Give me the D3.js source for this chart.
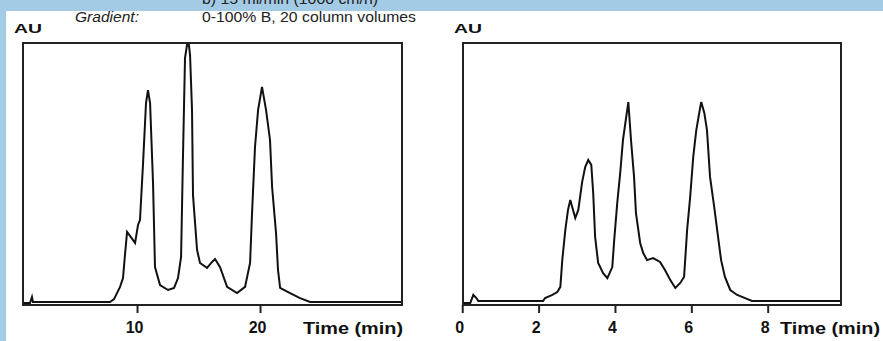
<!DOCTYPE html>
<html>
<head>
<meta charset="utf-8">
<script src="https://cdn.jsdelivr.net/npm/d3@7"></script>
<style>
  html, body { margin: 0; padding: 0; background: #fff; }
  svg { display: block; }
</style>
</head>
<body>
<svg id="chart" width="883" height="341"></svg>
<script>
// chromatogram a) - time (min) and absorbance (relative AU)
const leftTime = [0.73, 1.30, 1.46, 1.54, 7.80, 8.13, 8.37, 8.62, 8.86, 9.02, 9.19, 9.43, 9.84, 10.08,
  10.24, 10.49, 10.73, 10.89, 11.06, 11.30, 11.46, 11.87, 12.52, 13.01, 13.33, 13.58, 13.74, 13.90,
  14.15, 14.31, 14.47, 14.55, 14.88, 15.12, 15.69, 16.10, 16.34, 16.75, 17.32, 18.13, 18.78, 19.19,
  19.35, 19.59, 19.84, 20.16, 20.49, 20.81, 20.98, 21.30, 21.46, 21.63, 22.44, 23.25, 24.07, 31.54];
const leftAU = [0, 0, 0.023, 0.004, 0.004, 0.015, 0.038, 0.062, 0.096, 0.185, 0.273, 0.258, 0.231, 0.30,
  0.319, 0.538, 0.769, 0.819, 0.769, 0.462, 0.138, 0.069, 0.05, 0.058, 0.096, 0.177, 0.577, 0.942,
  1.02, 0.954, 0.742, 0.415, 0.204, 0.154, 0.135, 0.158, 0.169, 0.138, 0.062, 0.038, 0.062, 0.154,
  0.346, 0.60, 0.742, 0.831, 0.742, 0.627, 0.446, 0.269, 0.127, 0.058, 0.038, 0.019, 0.004, 0.004];

// chromatogram b)
const rightTime = [0.03, 0.21, 0.29, 0.37, 0.42, 2.12, 2.17, 2.36, 2.49, 2.57, 2.62, 2.70, 2.77, 2.83,
  2.96, 3.04, 3.14, 3.22, 3.30, 3.38, 3.43, 3.48, 3.56, 3.69, 3.80, 3.93, 3.98, 4.06, 4.14, 4.21,
  4.32, 4.35, 4.42, 4.50, 4.55, 4.66, 4.74, 4.84, 5.00, 5.18, 5.31, 5.45, 5.58, 5.71, 5.81, 5.89,
  5.97, 6.05, 6.13, 6.23, 6.26, 6.34, 6.41, 6.49, 6.60, 6.70, 6.78, 6.88, 7.02, 7.20, 7.41, 7.59, 9.92];
const rightAU = [0, 0, 0.031, 0.019, 0.008, 0.008, 0.019, 0.031, 0.042, 0.062, 0.165, 0.281, 0.358, 0.396,
  0.327, 0.358, 0.465, 0.523, 0.55, 0.531, 0.423, 0.254, 0.154, 0.115, 0.096, 0.138, 0.242, 0.385, 0.504, 0.627,
  0.742, 0.773, 0.627, 0.485, 0.346, 0.231, 0.192, 0.165, 0.173, 0.158, 0.127, 0.088, 0.058, 0.077, 0.10, 0.281,
  0.408, 0.562, 0.665, 0.75, 0.773, 0.731, 0.665, 0.485, 0.369, 0.254, 0.165, 0.10, 0.05, 0.031, 0.019, 0.008, 0.008];

const leftTicks = [10, 20];
const rightTicks = [0, 2, 4, 6, 8];
const axisTitle = 'Time (min)';
const yTitle = 'AU';

const svg = d3.select('#chart');
const FONT = 'Liberation Sans, Arial, sans-serif';

// light blue page border
svg.append('rect').attr('width', 883).attr('height', 341).attr('fill', '#a4cbe6');
svg.append('rect').attr('x', 6).attr('y', 11).attr('width', 877).attr('height', 330).attr('fill', '#fff');

// header text (cut by the top edge, as in the source page)
const header = (x, yy, len, txt, italic) => {
  svg.append('text')
    .attr('x', x).attr('y', yy)
    .attr('textLength', len)
    .attr('lengthAdjust', 'spacingAndGlyphs')
    .style('font-family', FONT)
    .style('font-size', '14.5px')
    .style('font-style', italic ? 'italic' : 'normal')
    .attr('fill', '#222')
    .text(txt);
};
header(202, 4, 176, 'b) 15 ml/min (1000 cm/h)', false);
header(75, 22, 64, 'Gradient:', true);
header(202, 22, 214, '0-100% B, 20 column volumes', false);

const plotTop = 43, plotBottom = 305;
const y = d3.scaleLinear().domain([0, 1]).range([plotBottom - 2 - plotTop, 0]);

const drawPanel = (id, left, width, domain, times, values, ticks, titleEnd) => {
  const g = svg.append('g').attr('transform', `translate(${left},${plotTop})`);
  const h = plotBottom - plotTop;
  const x = d3.scaleLinear().domain(domain).range([0, width]);

  g.append('clipPath').attr('id', id)
    .append('rect').attr('width', width).attr('height', h);

  const pts = times.map((t, i) => [t, values[i]]);
  const line = d3.line().x(d => x(d[0])).y(d => y(d[1]));
  g.append('path')
    .datum(pts)
    .attr('clip-path', `url(#${id})`)
    .attr('d', line)
    .attr('fill', 'none')
    .attr('stroke', '#111')
    .attr('stroke-width', 2)
    .attr('stroke-linejoin', 'miter');

  // frame
  g.append('rect')
    .attr('width', width).attr('height', h)
    .attr('fill', 'none')
    .attr('stroke', '#222')
    .attr('stroke-width', 2);

  const axis = g.append('g')
    .attr('transform', `translate(0,${h})`)
    .call(d3.axisBottom(x).tickValues(ticks).tickSize(8).tickPadding(9).tickFormat(d3.format('d')));
  axis.select('.domain').remove();
  axis.selectAll('.tick line').attr('stroke', '#222').attr('stroke-width', 2);
  axis.selectAll('.tick text')
    .attr('dx', -3)
    .attr('fill', '#111')
    .style('font-family', FONT)
    .style('font-size', '16px')
    .style('font-weight', 'bold');

  g.append('text')
    .attr('x', titleEnd - 100).attr('y', h + 29)
    .attr('textLength', 100)
    .attr('lengthAdjust', 'spacingAndGlyphs')
    .attr('fill', '#111')
    .style('font-family', FONT)
    .style('font-size', '17px')
    .style('font-weight', 'bold')
    .text(axisTitle);

  g.append('text')
    .attr('x', -9).attr('y', -10)
    .attr('textLength', 28)
    .attr('lengthAdjust', 'spacingAndGlyphs')
    .attr('fill', '#111')
    .style('font-family', FONT)
    .style('font-size', '12px')
    .style('font-weight', 'bold')
    .text(yTitle);
};

drawPanel('clipA', 23, 379, [0.73, 31.54], leftTime, leftAU, leftTicks, 380);
drawPanel('clipB', 463, 378, [0.02, 9.92], rightTime, rightAU, rightTicks, 417);
</script>
</body>
</html>
